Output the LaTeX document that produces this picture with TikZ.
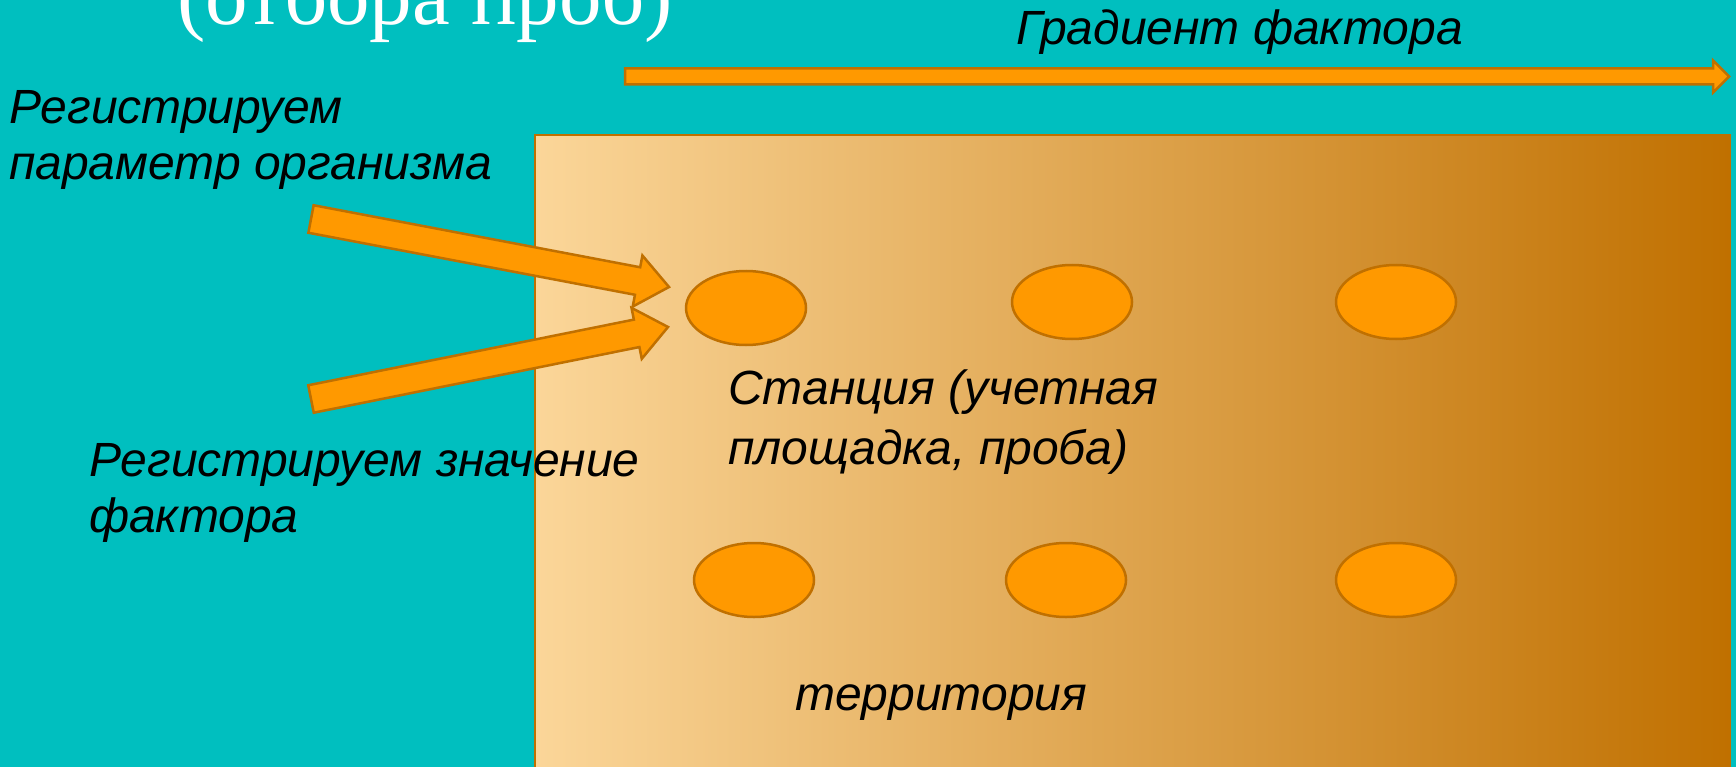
\documentclass[tikz,border=0pt]{standalone}
\usepackage{fontspec}
\setmainfont{Liberation Sans}
\newfontfamily\titlefont{Liberation Serif}
\usetikzlibrary{calc,shapes.geometric}
\definecolor{bgteal}{RGB}{0,191,191}
\definecolor{arrfill}{RGB}{255,153,0}
\definecolor{arrline}{RGB}{192,112,0}
\definecolor{terrL}{RGB}{251,214,153}
\definecolor{terrR}{RGB}{192,112,0}
\begin{document}
\begin{tikzpicture}[x=1pt,y=-1pt,
  lbl/.style={font=\fontsize{48}{56}\selectfont\itshape, inner sep=0pt, anchor=base west, align=left},
  station/.style={ellipse, draw=arrline, fill=arrfill, line width=2.5pt, minimum width=120pt, minimum height=74pt, inner sep=0pt},
  blockarrow/.style={draw=arrline, fill=arrfill, line width=2.5pt, line join=miter}]
\useasboundingbox (0,0) rectangle (1736,767);
\clip (0,0) rectangle (1736,767);
\fill[bgteal] (0,0) rectangle (1736,767);
% territory
\path[draw=arrline, line width=2.5pt, left color=terrL, right color=terrR] (535,135) rectangle (1730,800);
% title
\node[font=\titlefont\fontsize{85}{90}\selectfont, text=white, inner sep=0pt, anchor=base west] (title) at (177,25) {(отбора проб)};
% gradient arrow
\coordinate (gt) at (625,76.5);
\coordinate (gp) at (1729,76.5);
\coordinate (gh) at ($(gp)!16pt!(gt)$);
\draw[blockarrow] ($(gt)!8pt!90:(gp)$) -- ($(gh)!8pt!90:(gp)$) -- ($(gh)!16pt!90:(gp)$) -- (gp) -- ($(gh)!16pt!-90:(gp)$) -- ($(gh)!8pt!-90:(gp)$) -- ($(gt)!8pt!-90:(gp)$) -- cycle;
\node[lbl] (grad) at (1016,45) {Градиент фактора};
% stations
\node[station] (st1) at (746,308) {};
\node[station] (st2) at (1072,302) {};
\node[station] (st3) at (1396,302) {};
\node[station] (st4) at (754,580) {};
\node[station] (st5) at (1066,580) {};
\node[station] (st6) at (1396,580) {};
% block arrows
\coordinate (t1) at (311,219);
\coordinate (p1) at (669,287);
\coordinate (h1) at ($(p1)!32pt!(t1)$);
\draw[blockarrow] ($(t1)!14pt!90:(p1)$) -- ($(h1)!14pt!90:(p1)$) -- ($(h1)!26pt!90:(p1)$) -- (p1) -- ($(h1)!26pt!-90:(p1)$) -- ($(h1)!14pt!-90:(p1)$) -- ($(t1)!14pt!-90:(p1)$) -- cycle;
\coordinate (t2) at (311,399);
\coordinate (p2) at (668,327);
\coordinate (h2) at ($(p2)!32pt!(t2)$);
\draw[blockarrow] ($(t2)!14pt!90:(p2)$) -- ($(h2)!14pt!90:(p2)$) -- ($(h2)!26pt!90:(p2)$) -- (p2) -- ($(h2)!26pt!-90:(p2)$) -- ($(h2)!14pt!-90:(p2)$) -- ($(t2)!14pt!-90:(p2)$) -- cycle;
% labels (base anchor = last line)
\node[lbl] (org) at (9,180) {Регистрируем\\параметр организма};
\node[lbl] (fac) at (89,532) {Регистрируем значение\\фактора};
\node[lbl, font=\fontsize{48}{60}\selectfont\itshape] (stlbl) at (728,464) {Станция (учетная\\площадка, проба)};
\node[lbl] (terr) at (795,710) {территория};
\end{tikzpicture}
\end{document}
